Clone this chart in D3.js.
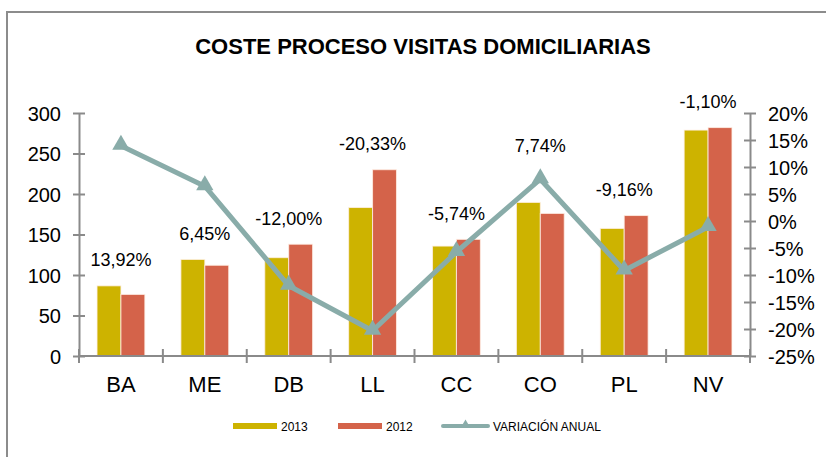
<!DOCTYPE html>
<html>
<head>
<meta charset="utf-8">
<script src="https://cdn.jsdelivr.net/npm/d3@7"></script>
<style>
  html, body { margin: 0; padding: 0; background: #fff; }
  svg { display: block; font-family: "Liberation Sans", Arial, sans-serif; }
</style>
</head>
<body>
<svg id="chart" width="826" height="457"></svg>
<script>
// Coste por centro, 2013 vs 2012, y variación anual
const categories = ["BA", "ME", "DB", "LL", "CC", "CO", "PL", "NV"];
const years = ["2013", "2012"];
const values2013 = [86.6, 119.2, 121.4, 183.3, 135.7, 189.6, 157.5, 278.9];
const values2012 = [76.0, 112.0, 138.0, 230.0, 144.0, 176.0, 173.4, 282.0];
const variation = [0.1392, 0.0645, -0.1200, -0.2033, -0.0574, 0.0774, -0.0916, -0.0110];
const variationLabels = ["13,92%", "6,45%", "-12,00%", "-20,33%", "-5,74%", "7,74%", "-9,16%", "-1,10%"];
const leftTicks = [0, 50, 100, 150, 200, 250, 300];
const rightTicks = [-0.25, -0.20, -0.15, -0.10, -0.05, 0, 0.05, 0.10, 0.15, 0.20];
const legendItems = ["2013", "2012", "VARIACIÓN ANUAL"];

const colors = { "2013": "#CDB300", "2012": "#D4634A", line: "#89ACA9", axis: "#8a8a8a" };

const svg = d3.select("#chart");

// outer frame (left and top edges visible)
svg.append("path")
  .attr("d", "M7,470V12H840")
  .attr("fill", "none")
  .attr("stroke", "#8c8c8c")
  .attr("stroke-width", 2);

svg.append("text")
  .attr("x", 423).attr("y", 54)
  .attr("text-anchor", "middle")
  .attr("font-size", 22).attr("font-weight", "bold")
  .attr("fill", "#000")
  .text("COSTE PROCESO VISITAS DOMICILIARIAS");

const plot = { left: 79, right: 750, top: 113, bottom: 356 };

const x0 = d3.scaleBand().domain(categories)
  .range([plot.left, plot.right])
  .paddingInner(0.43).paddingOuter(0.215);
const x1 = d3.scaleBand().domain(years).range([0, x0.bandwidth()]);
const yL = d3.scaleLinear().domain([0, 300]).range([plot.bottom, plot.top]);
const yR = d3.scaleLinear().domain([-0.25, 0.20]).range([plot.bottom, plot.top]);

const rows = categories.map((c, i) => ({
  cat: c, "2013": values2013[i], "2012": values2012[i],
  v: variation[i], label: variationLabels[i]
}));

// bars
const groups = svg.append("g").selectAll("g").data(rows).join("g")
  .attr("transform", d => `translate(${x0(d.cat)},0)`);
groups.selectAll("rect").data(d => years.map(k => ({ k, val: d[k] }))).join("rect")
  .attr("x", d => x1(d.k))
  .attr("width", x1.bandwidth())
  .attr("y", d => yL(d.val))
  .attr("height", d => yL(0) - yL(d.val))
  .attr("fill", d => colors[d.k])
  .attr("stroke", "rgba(255,240,230,0.8)")
  .attr("stroke-width", 1);

// axes
function styleAxis(g) {
  g.select(".domain").attr("stroke", colors.axis).attr("stroke-width", 2);
  g.selectAll(".tick line").attr("stroke", colors.axis).attr("stroke-width", 2);
  g.selectAll("text").attr("fill", "#000").style("font-family", "'Liberation Sans', Arial, sans-serif");
}

const axL = svg.append("g").attr("transform", `translate(${plot.left},0)`)
  .call(d3.axisLeft(yL).tickValues(leftTicks).tickSizeInner(6).tickSizeOuter(0).tickPadding(12).tickFormat(d3.format("d")));
styleAxis(axL);
axL.selectAll(".tick line").attr("x1", -6).attr("x2", 6);
axL.selectAll("text").attr("font-size", 20).attr("dy", "0.36em");

const axR = svg.append("g").attr("transform", `translate(${plot.right},0)`)
  .call(d3.axisRight(yR).tickValues(rightTicks).tickSizeInner(6).tickSizeOuter(0).tickPadding(12)
    .tickFormat(d => Math.round(d * 100) + "%"));
styleAxis(axR);
axR.selectAll(".tick line").attr("x1", -6).attr("x2", 6);
axR.selectAll("text").attr("font-size", 20).attr("dy", "0.36em");

// category axis with boundary ticks
const axB = svg.append("g").attr("transform", `translate(0,${plot.bottom})`);
axB.append("line")
  .attr("x1", plot.left).attr("x2", plot.right)
  .attr("stroke", colors.axis).attr("stroke-width", 2);
const step = x0.step();
const bounds = d3.range(categories.length + 1).map(i => x0(categories[0]) - x0.paddingOuter() * step + i * step);
axB.selectAll("line.b").data(bounds).join("line").attr("class", "b")
  .attr("x1", d => d).attr("x2", d => d).attr("y1", -7).attr("y2", 7)
  .attr("stroke", colors.axis).attr("stroke-width", 2);
axB.selectAll("text").data(categories).join("text")
  .attr("x", d => x0(d) + x0.bandwidth() / 2)
  .attr("y", 36)
  .attr("text-anchor", "middle")
  .attr("font-size", 22).attr("fill", "#000")
  .text(d => d);

// variation line
const cx = d => x0(d.cat) + x0.bandwidth() / 2;
svg.append("path").datum(rows)
  .attr("d", d3.line().x(cx).y(d => yR(d.v)))
  .attr("fill", "none")
  .attr("stroke", colors.line)
  .attr("stroke-width", 5)
  .attr("stroke-linejoin", "round");
const tri = d3.symbol().type(d3.symbolTriangle).size(130);
svg.append("g").selectAll("path").data(rows).join("path")
  .attr("d", tri)
  .attr("transform", d => `translate(${cx(d)},${yR(d.v) - 1})`)
  .attr("fill", colors.line);

// value labels above the taller bar, lifted over the marker when it sits just above the bars
svg.append("g").selectAll("text").data(rows).join("text")
  .attr("x", cx)
  .attr("y", d => {
    const barTop = yL(Math.max(d["2013"], d["2012"]));
    const mark = yR(d.v);
    const anchor = (mark < barTop && mark > barTop - 45) ? mark - 8 : barTop;
    return anchor - 19.5;
  })
  .attr("text-anchor", "middle")
  .attr("font-size", 18).attr("fill", "#000")
  .text(d => d.label);

// legend
const leg = svg.append("g").attr("transform", "translate(0,426)");
const legX = [233, 338, 443];
leg.append("rect").attr("x", legX[0]).attr("y", -3).attr("width", 44).attr("height", 6).attr("fill", colors["2013"]);
leg.append("rect").attr("x", legX[1]).attr("y", -3).attr("width", 44).attr("height", 6).attr("fill", colors["2012"]);
leg.append("line").attr("x1", legX[2]).attr("x2", legX[2] + 45).attr("y1", 0).attr("y2", 0)
  .attr("stroke", colors.line).attr("stroke-width", 4).attr("stroke-linecap", "round");
leg.append("path").attr("d", d3.symbol().type(d3.symbolTriangle).size(40))
  .attr("transform", `translate(${legX[2] + 22.5},-1)`).attr("fill", colors.line);
leg.selectAll("text").data(legendItems).join("text")
  .attr("x", (d, i) => legX[i] + (i === 2 ? 50 : 48))
  .attr("y", 5)
  .attr("font-size", 12).attr("fill", "#000")
  .text(d => d);
</script>
</body>
</html>
